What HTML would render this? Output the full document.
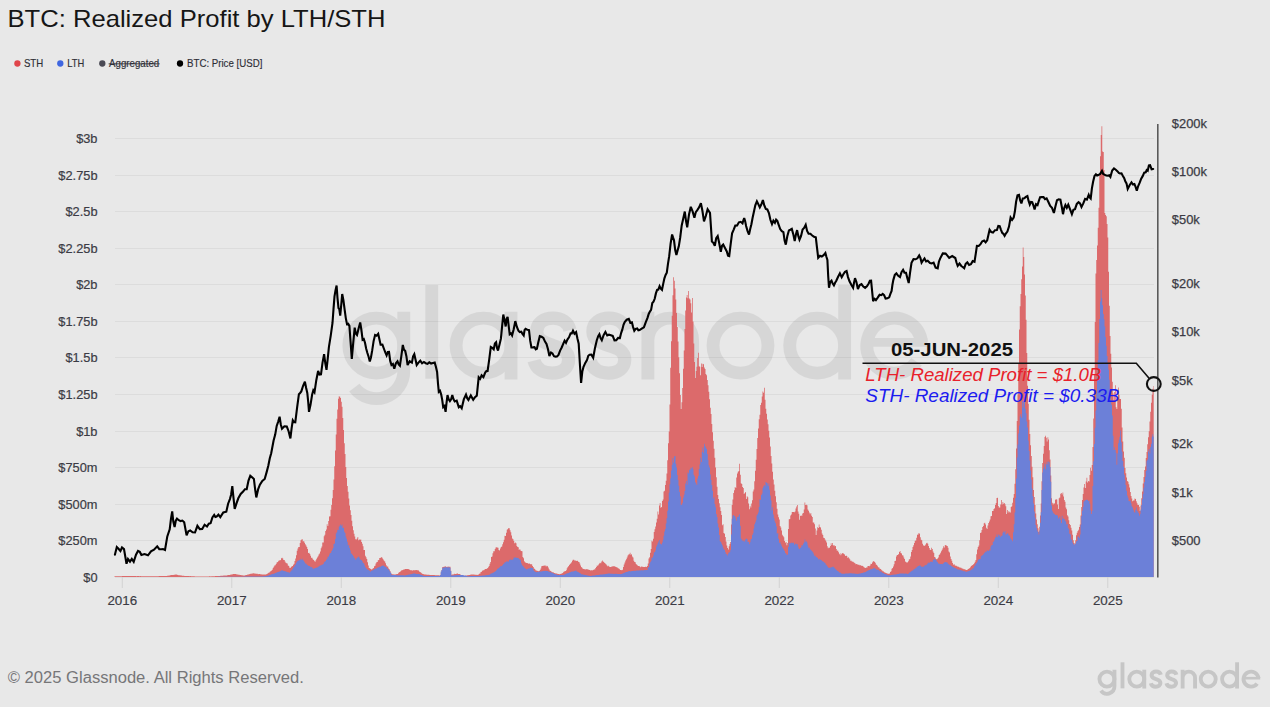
<!DOCTYPE html>
<html><head><meta charset="utf-8"><title>BTC: Realized Profit by LTH/STH</title>
<style>
html,body{margin:0;padding:0;background:#e8e8e8;}
body{width:1270px;height:707px;overflow:hidden;font-family:"Liberation Sans",sans-serif;}
svg{display:block;}
text{font-family:"Liberation Sans",sans-serif;}
</style></head><body>
<svg width="1270" height="707" viewBox="0 0 1270 707">
<rect width="1270" height="707" fill="#e8e8e8"/>

<text x="7.5" y="26.6" font-size="24" fill="#161616" textLength="378" lengthAdjust="spacingAndGlyphs">BTC: Realized Profit by LTH/STH</text>
<g font-size="10.3" fill="#2e2e36" stroke="#2e2e36" stroke-width="0.15">
<circle cx="17.4" cy="63.5" r="3.15" fill="#e0454a" stroke="none"/><text x="23.9" y="67.4" textLength="19.3" lengthAdjust="spacingAndGlyphs">STH</text>
<circle cx="60.3" cy="63.5" r="3.15" fill="#3f66e0" stroke="none"/><text x="67.2" y="67.4" textLength="17.0" lengthAdjust="spacingAndGlyphs">LTH</text>
<circle cx="102.3" cy="63.5" r="3.15" fill="#4a4a55" stroke="none"/><text x="109.1" y="67.4" textLength="50.1" lengthAdjust="spacingAndGlyphs">Aggregated</text>
<rect x="108.6" y="63.4" width="51.1" height="0.9" fill="#2e2e36" stroke="none"/>
<circle cx="180" cy="63.5" r="3.15" fill="#000" stroke="none"/><text x="187" y="67.4" textLength="75.4" lengthAdjust="spacingAndGlyphs">BTC: Price [USD]</text>
</g>
<g stroke="#dcdcdc" stroke-width="1">
<line x1="115" x2="1154" y1="138.5" y2="138.5"/>
<line x1="115" x2="1154" y1="175.5" y2="175.5"/>
<line x1="115" x2="1154" y1="211.5" y2="211.5"/>
<line x1="115" x2="1154" y1="248.5" y2="248.5"/>
<line x1="115" x2="1154" y1="284.5" y2="284.5"/>
<line x1="115" x2="1154" y1="321.5" y2="321.5"/>
<line x1="115" x2="1154" y1="357.5" y2="357.5"/>
<line x1="115" x2="1154" y1="394.5" y2="394.5"/>
<line x1="115" x2="1154" y1="431.5" y2="431.5"/>
<line x1="115" x2="1154" y1="467.5" y2="467.5"/>
<line x1="115" x2="1154" y1="504.5" y2="504.5"/>
<line x1="115" x2="1154" y1="540.5" y2="540.5"/>
<line x1="115" x2="1154" y1="577.5" y2="577.5"/>
</g>
<g transform="translate(343.4,311.4) scale(0.658)" opacity="0.07"><g fill="none" stroke="#000" stroke-width="19.5" stroke-linecap="butt"><circle cx="50" cy="52.0" r="41.75"/>
<path d="M91.75 0.5 V 90.0 A 41.75 41.75 0 0 1 16.6 115.9"/>
<path d="M134.25 -40.0 V 102.5"/>
<circle cx="213" cy="52.0" r="41.75"/>
<path d="M254.75 0.5 V 103.5"/>
<path transform="translate(281.5,0.5) scale(1.03)" d="M 61 27 C 58 15, 48 9.5, 36 9.5 C 22 9.5, 12 17, 12 29 C 12 42, 24 46, 36 50 C 50 54, 59 59, 59 71 C 59 83, 49 90.5, 35 90.5 C 21 90.5, 11 84, 8 72"/>
<path transform="translate(366.8,0.5) scale(1.03)" d="M 61 27 C 58 15, 48 9.5, 36 9.5 C 22 9.5, 12 17, 12 29 C 12 42, 24 46, 36 50 C 50 54, 59 59, 59 71 C 59 83, 49 90.5, 35 90.5 C 21 90.5, 11 84, 8 72"/>
<path d="M462.75 0.5 V 103.5 M462.75 44.25 A 34 34 0 0 1 530.75 44.25 V 103.5"/>
<circle cx="603.5" cy="52.0" r="41.75"/>
<circle cx="720" cy="52.0" r="41.75"/>
<path d="M761.75 -40.0 V 103.5"/>
<path d="M878.7 47.0 A 41.75 41.75 0 1 0 871.1 76.5"/>
<path d="M797.5 47.0 H 887.5" stroke-width="13.3"/></g></g>
<g font-size="12.8" fill="#3b3b44" stroke="#3b3b44" stroke-width="0.2" text-anchor="end">
<text x="97.5" y="142.5">$3b</text>
<text x="97.5" y="179.5">$2.75b</text>
<text x="97.5" y="215.5">$2.5b</text>
<text x="97.5" y="252.5">$2.25b</text>
<text x="97.5" y="288.5">$2b</text>
<text x="97.5" y="325.5">$1.75b</text>
<text x="97.5" y="361.5">$1.5b</text>
<text x="97.5" y="398.5">$1.25b</text>
<text x="97.5" y="435.5">$1b</text>
<text x="97.5" y="471.5">$750m</text>
<text x="97.5" y="508.5">$500m</text>
<text x="97.5" y="544.5">$250m</text>
<text x="97.5" y="581.5">$0</text>
</g>
<g font-size="12.9" fill="#3b3b44" stroke="#3b3b44" stroke-width="0.25">
<text x="1171.8" y="128.0">$200k</text>
<text x="1171.8" y="176.0">$100k</text>
<text x="1171.8" y="224.0">$50k</text>
<text x="1171.8" y="288.0">$20k</text>
<text x="1171.8" y="336.0">$10k</text>
<text x="1171.8" y="385.0">$5k</text>
<text x="1171.8" y="448.0">$2k</text>
<text x="1171.8" y="497.0">$1k</text>
<text x="1171.8" y="545.0">$500</text>
</g>
<g stroke="#d2d2d2" stroke-width="1">
<line x1="122.3" x2="122.3" y1="577" y2="588"/>
<line x1="231.8" x2="231.8" y1="577" y2="588"/>
<line x1="341.3" x2="341.3" y1="577" y2="588"/>
<line x1="450.8" x2="450.8" y1="577" y2="588"/>
<line x1="560.3" x2="560.3" y1="577" y2="588"/>
<line x1="669.8" x2="669.8" y1="577" y2="588"/>
<line x1="779.3" x2="779.3" y1="577" y2="588"/>
<line x1="888.8" x2="888.8" y1="577" y2="588"/>
<line x1="998.3" x2="998.3" y1="577" y2="588"/>
<line x1="1107.8" x2="1107.8" y1="577" y2="588"/>
</g>
<g font-size="13.4" fill="#3b3b44" stroke="#3b3b44" stroke-width="0.15" text-anchor="middle">
<text x="122.3" y="604.7">2016</text>
<text x="231.8" y="604.7">2017</text>
<text x="341.3" y="604.7">2018</text>
<text x="450.8" y="604.7">2019</text>
<text x="560.3" y="604.7">2020</text>
<text x="669.8" y="604.7">2021</text>
<text x="779.3" y="604.7">2022</text>
<text x="888.8" y="604.7">2023</text>
<text x="998.3" y="604.7">2024</text>
<text x="1107.8" y="604.7">2025</text>
</g>
<path d="M114.50,577V576.3H115.25V576.3H116.00V576.3H116.75V576.3H117.50V576.3H118.25V576.2H119.00V576.2H119.75V576.2H120.50V576.2H121.25V576.2H122.00V576.1H122.75V576.1H123.50V576.1H124.25V576.1H125.00V576.1H125.75V576.1H126.50V576.0H127.25V576.0H128.00V576.0H128.75V576.0H129.50V576.0H130.25V576.0H131.00V576.0H131.75V576.0H132.50V576.0H133.25V576.0H134.00V576.1H134.75V576.1H135.50V576.1H136.25V576.2H137.00V576.1H137.75V576.1H138.50V576.1H139.25V576.2H140.00V576.1H140.75V576.2H141.50V576.2H142.25V576.2H143.00V576.2H143.75V576.2H144.50V576.2H145.25V576.2H146.00V576.3H146.75V576.2H147.50V576.2H148.25V576.3H149.00V576.3H149.75V576.3H150.50V576.3H151.25V576.3H152.00V576.3H152.75V576.2H153.50V576.2H154.25V576.2H155.00V576.2H155.75V576.2H156.50V576.2H157.25V576.2H158.00V576.2H158.75V576.1H159.50V576.1H160.25V576.1H161.00V576.1H161.75V576.1H162.50V576.1H163.25V576.0H164.00V576.0H164.75V576.0H165.50V576.0H166.25V576.0H167.00V575.8H167.75V575.7H168.50V575.6H169.25V575.4H170.00V575.3H170.75V575.1H171.50V575.0H172.25V575.0H173.00V574.9H173.75V574.8H174.50V574.7H175.25V574.6H176.00V574.6H176.75V574.8H177.50V574.9H178.25V575.2H179.00V575.2H179.75V575.3H180.50V575.4H181.25V575.5H182.00V575.7H182.75V575.7H183.50V575.8H184.25V575.9H185.00V575.9H185.75V576.0H186.50V576.0H187.25V576.0H188.00V576.1H188.75V576.1H189.50V576.2H190.25V576.1H191.00V576.2H191.75V576.3H192.50V576.2H193.25V576.3H194.00V576.3H194.75V576.4H195.50V576.4H196.25V576.4H197.00V576.4H197.75V576.5H198.50V576.4H199.25V576.5H200.00V576.5H200.75V576.5H201.50V576.5H202.25V576.5H203.00V576.4H203.75V576.4H204.50V576.4H205.25V576.4H206.00V576.4H206.75V576.4H207.50V576.4H208.25V576.4H209.00V576.3H209.75V576.3H210.50V576.4H211.25V576.3H212.00V576.3H212.75V576.3H213.50V576.2H214.25V576.2H215.00V576.1H215.75V576.1H216.50V576.1H217.25V576.0H218.00V575.9H218.75V575.9H219.50V576.0H220.25V575.8H221.00V575.8H221.75V575.7H222.50V575.8H223.25V575.6H224.00V575.5H224.75V575.5H225.50V575.5H226.25V575.4H227.00V575.2H227.75V575.1H228.50V575.0H229.25V574.9H230.00V574.7H230.75V574.6H231.50V574.5H232.25V574.2H233.00V574.0H233.75V574.0H234.50V574.0H235.25V574.0H236.00V574.3H236.75V574.4H237.50V574.5H238.25V574.7H239.00V574.7H239.75V574.9H240.50V575.1H241.25V575.3H242.00V575.3H242.75V575.4H243.50V575.4H244.25V575.4H245.00V575.2H245.75V575.0H246.50V574.9H247.25V574.5H248.00V574.4H248.75V574.2H249.50V574.0H250.25V573.8H251.00V573.8H251.75V573.5H252.50V573.4H253.25V573.2H254.00V573.4H254.75V573.4H255.50V573.7H256.25V573.7H257.00V573.8H257.75V574.2H258.50V574.0H259.25V574.1H260.00V574.2H260.75V574.3H261.50V574.5H262.25V574.5H263.00V574.5H263.75V574.6H264.50V574.6H265.25V574.6H266.00V574.3H266.75V574.0H267.50V573.3H268.25V572.7H269.00V572.6H269.75V571.8H270.50V571.1H271.25V570.5H272.00V569.7H272.75V568.0H273.50V566.7H274.25V565.6H275.00V565.2H275.75V563.9H276.50V562.6H277.25V562.1H278.00V561.2H278.75V560.3H279.50V560.4H280.25V559.9H281.00V558.3H281.75V557.8H282.50V558.5H283.25V560.0H284.00V560.0H284.75V561.6H285.50V562.8H286.25V563.2H287.00V563.6H287.75V565.6H288.50V566.1H289.25V567.7H290.00V568.1H290.75V567.0H291.50V566.3H292.25V566.0H293.00V564.8H293.75V563.8H294.50V561.1H295.25V558.4H296.00V555.2H296.75V550.8H297.50V548.4H298.25V547.0H299.00V547.1H299.75V543.1H300.50V540.3H301.25V539.4H302.00V539.3H302.75V541.4H303.50V540.9H304.25V542.8H305.00V544.3H305.75V545.6H306.50V547.0H307.25V549.1H308.00V553.0H308.75V552.8H309.50V554.1H310.25V555.7H311.00V557.8H311.75V557.8H312.50V559.3H313.25V560.0H314.00V560.8H314.75V561.7H315.50V560.3H316.25V558.7H317.00V557.4H317.75V556.3H318.50V554.5H319.25V553.6H320.00V551.4H320.75V548.2H321.50V546.5H322.25V542.5H323.00V542.4H323.75V536.3H324.50V534.7H325.25V531.1H326.00V529.4H326.75V524.3H327.50V525.9H328.25V520.9H329.00V516.4H329.75V516.2H330.50V509.8H331.25V504.9H332.00V498.2H332.75V489.9H333.50V479.5H334.25V466.2H335.00V450.6H335.75V434.4H336.50V418.7H337.25V409.4H338.00V398.7H338.75V396.2H339.50V396.8H340.25V398.1H341.00V401.8H341.75V406.8H342.50V417.9H343.25V429.9H344.00V443.3H344.75V454.0H345.50V467.1H346.25V478.0H347.00V486.1H347.75V491.8H348.50V498.4H349.25V505.6H350.00V510.3H350.75V515.0H351.50V520.8H352.25V526.3H353.00V530.2H353.75V533.7H354.50V536.6H355.25V539.3H356.00V539.6H356.75V538.6H357.50V537.0H358.25V540.2H359.00V539.6H359.75V539.7H360.50V539.6H361.25V542.1H362.00V543.8H362.75V546.3H363.50V550.1H364.25V550.0H365.00V555.7H365.75V557.2H366.50V559.1H367.25V562.2H368.00V565.5H368.75V567.9H369.50V568.3H370.25V569.0H371.00V569.4H371.75V569.3H372.50V568.5H373.25V568.0H374.00V566.3H374.75V565.8H375.50V563.5H376.25V562.2H377.00V562.1H377.75V560.3H378.50V559.9H379.25V557.9H380.00V557.9H380.75V557.3H381.50V557.3H382.25V558.4H383.00V559.5H383.75V560.7H384.50V561.4H385.25V563.3H386.00V565.3H386.75V566.4H387.50V566.4H388.25V568.4H389.00V569.2H389.75V571.1H390.50V572.8H391.25V574.0H392.00V574.2H392.75V574.2H393.50V574.5H394.25V574.6H395.00V574.4H395.75V574.3H396.50V574.1H397.25V573.9H398.00V573.3H398.75V572.3H399.50V572.0H400.25V571.3H401.00V570.5H401.75V570.2H402.50V569.9H403.25V569.5H404.00V569.6H404.75V568.9H405.50V568.9H406.25V569.1H407.00V568.9H407.75V568.9H408.50V569.3H409.25V569.7H410.00V570.2H410.75V570.1H411.50V570.6H412.25V570.4H413.00V570.2H413.75V570.1H414.50V570.5H415.25V570.1H416.00V570.0H416.75V570.3H417.50V570.2H418.25V570.6H419.00V571.5H419.75V572.0H420.50V572.6H421.25V573.2H422.00V573.8H422.75V574.0H423.50V574.3H424.25V574.4H425.00V574.5H425.75V574.5H426.50V574.7H427.25V574.7H428.00V574.8H428.75V574.8H429.50V574.9H430.25V574.9H431.00V574.9H431.75V575.1H432.50V575.0H433.25V575.1H434.00V575.1H434.75V575.2H435.50V575.3H436.25V575.2H437.00V575.3H437.75V575.3H438.50V575.3H439.25V575.5H440.00V575.2H440.75V572.6H441.50V570.0H442.25V567.1H443.00V567.0H443.75V566.6H444.50V566.7H445.25V566.3H446.00V567.0H446.75V566.4H447.50V566.9H448.25V566.5H449.00V566.7H449.75V566.8H450.50V570.7H451.25V574.8H452.00V574.6H452.75V574.4H453.50V574.3H454.25V573.8H455.00V573.9H455.75V573.9H456.50V573.5H457.25V573.5H458.00V573.9H458.75V574.0H459.50V574.1H460.25V574.7H461.00V575.1H461.75V575.1H462.50V575.2H463.25V575.6H464.00V575.9H464.75V575.8H465.50V575.6H466.25V575.5H467.00V575.2H467.75V575.3H468.50V575.0H469.25V574.9H470.00V574.7H470.75V574.6H471.50V574.5H472.25V574.4H473.00V574.5H473.75V574.6H474.50V574.7H475.25V574.8H476.00V574.8H476.75V574.9H477.50V574.7H478.25V574.4H479.00V573.7H479.75V573.4H480.50V572.0H481.25V571.7H482.00V570.8H482.75V570.3H483.50V570.2H484.25V569.5H485.00V569.0H485.75V569.0H486.50V568.7H487.25V568.1H488.00V567.3H488.75V566.0H489.50V563.8H490.25V562.1H491.00V557.0H491.75V556.5H492.50V553.3H493.25V551.3H494.00V551.3H494.75V548.9H495.50V547.4H496.25V547.3H497.00V547.5H497.75V547.7H498.50V549.9H499.25V550.5H500.00V548.6H500.75V547.0H501.50V546.5H502.25V544.2H503.00V542.3H503.75V539.7H504.50V535.8H505.25V535.9H506.00V532.8H506.75V529.7H507.50V529.0H508.25V528.1H509.00V528.3H509.75V530.3H510.50V532.2H511.25V535.5H512.00V538.4H512.75V539.3H513.50V540.9H514.25V543.3H515.00V542.5H515.75V543.3H516.50V546.0H517.25V546.9H518.00V547.3H518.75V549.9H519.50V549.0H520.25V550.4H521.00V550.9H521.75V551.3H522.50V556.9H523.25V558.3H524.00V561.2H524.75V562.3H525.50V562.8H526.25V563.0H527.00V563.0H527.75V563.4H528.50V563.7H529.25V563.4H530.00V564.2H530.75V563.9H531.50V564.5H532.25V566.0H533.00V567.1H533.75V568.4H534.50V569.0H535.25V570.2H536.00V570.6H536.75V570.8H537.50V571.0H538.25V571.2H539.00V571.0H539.75V570.1H540.50V568.6H541.25V566.2H542.00V565.9H542.75V565.7H543.50V565.8H544.25V565.5H545.00V565.4H545.75V566.4H546.50V565.7H547.25V566.2H548.00V567.4H548.75V569.3H549.50V570.6H550.25V571.1H551.00V571.6H551.75V572.2H552.50V572.3H553.25V572.5H554.00V573.0H554.75V573.3H555.50V573.6H556.25V573.6H557.00V573.8H557.75V574.0H558.50V574.0H559.25V574.3H560.00V574.1H560.75V573.7H561.50V573.6H562.25V573.0H563.00V572.3H563.75V571.5H564.50V571.3H565.25V571.0H566.00V570.3H566.75V568.2H567.50V566.9H568.25V566.0H569.00V565.0H569.75V563.9H570.50V563.2H571.25V562.3H572.00V560.7H572.75V559.8H573.50V559.8H574.25V560.6H575.00V560.6H575.75V560.7H576.50V560.9H577.25V560.8H578.00V561.8H578.75V562.1H579.50V563.5H580.25V565.6H581.00V567.0H581.75V567.7H582.50V568.7H583.25V569.0H584.00V569.2H584.75V569.1H585.50V569.7H586.25V569.1H587.00V569.3H587.75V569.4H588.50V569.7H589.25V570.0H590.00V570.4H590.75V570.1H591.50V570.4H592.25V570.3H593.00V570.0H593.75V569.3H594.50V569.4H595.25V568.0H596.00V567.1H596.75V565.6H597.50V565.8H598.25V564.6H599.00V563.6H599.75V562.7H600.50V563.3H601.25V561.4H602.00V560.5H602.75V561.6H603.50V561.9H604.25V563.1H605.00V563.6H605.75V564.3H606.50V565.2H607.25V566.3H608.00V565.8H608.75V566.6H609.50V567.0H610.25V567.0H611.00V566.7H611.75V566.6H612.50V566.3H613.25V566.2H614.00V566.3H614.75V566.6H615.50V567.0H616.25V567.3H617.00V567.6H617.75V568.3H618.50V568.6H619.25V569.2H620.00V569.9H620.75V570.1H621.50V570.2H622.25V569.7H623.00V567.0H623.75V564.5H624.50V562.6H625.25V560.5H626.00V559.2H626.75V557.4H627.50V555.6H628.25V554.4H629.00V554.2H629.75V552.8H630.50V554.8H631.25V554.3H632.00V556.6H632.75V557.4H633.50V560.8H634.25V562.1H635.00V562.2H635.75V564.0H636.50V564.8H637.25V565.4H638.00V566.1H638.75V566.1H639.50V566.5H640.25V567.2H641.00V566.4H641.75V566.7H642.50V566.7H643.25V566.9H644.00V567.0H644.75V566.9H645.50V566.5H646.25V567.0H647.00V566.1H647.75V563.6H648.50V558.4H649.25V557.2H650.00V552.8H650.75V549.0H651.50V540.7H652.25V541.6H653.00V538.8H653.75V532.0H654.50V529.3H655.25V526.5H656.00V522.6H656.75V518.8H657.50V511.6H658.25V514.5H659.00V505.5H659.75V503.0H660.50V507.7H661.25V506.9H662.00V501.0H662.75V499.4H663.50V491.6H664.25V490.8H665.00V484.9H665.75V480.7H666.50V473.5H667.25V460.2H668.00V443.2H668.75V431.6H669.50V404.6H670.25V367.8H671.00V341.3H671.75V315.7H672.50V295.2H673.25V277.2H674.00V280.8H674.75V288.5H675.50V299.4H676.25V313.1H677.00V327.0H677.75V341.6H678.50V357.2H679.25V373.2H680.00V394.9H680.75V409.0H681.50V402.2H682.25V388.1H683.00V368.8H683.75V350.5H684.50V329.1H685.25V310.4H686.00V297.4H686.75V295.1H687.50V298.2H688.25V290.9H689.00V298.5H689.75V299.5H690.50V303.3H691.25V312.6H692.00V298.0H692.75V321.6H693.50V343.4H694.25V362.0H695.00V378.0H695.75V370.9H696.50V366.8H697.25V357.9H698.00V352.8H698.75V366.3H699.50V366.8H700.25V375.2H701.00V363.4H701.75V367.0H702.50V363.8H703.25V364.2H704.00V367.5H704.75V368.9H705.50V374.1H706.25V375.2H707.00V380.0H707.75V385.3H708.50V391.7H709.25V399.2H710.00V407.8H710.75V414.0H711.50V423.9H712.25V432.2H713.00V440.7H713.75V448.7H714.50V457.7H715.25V467.5H716.00V477.3H716.75V486.7H717.50V494.9H718.25V499.1H719.00V503.3H719.75V507.3H720.50V510.9H721.25V514.9H722.00V525.2H722.75V524.3H723.50V533.0H724.25V533.7H725.00V536.9H725.75V541.5H726.50V545.5H727.25V548.1H728.00V549.4H728.75V546.2H729.50V544.0H730.25V542.0H731.00V524.5H731.75V505.1H732.50V499.4H733.25V492.9H734.00V490.3H734.75V486.9H735.50V487.9H736.25V477.4H737.00V473.4H737.75V471.8H738.50V470.9H739.25V463.7H740.00V474.7H740.75V483.3H741.50V484.1H742.25V487.0H743.00V488.0H743.75V493.9H744.50V492.9H745.25V492.0H746.00V499.0H746.75V496.3H747.50V497.2H748.25V503.4H749.00V509.3H749.75V505.8H750.50V507.5H751.25V503.4H752.00V500.3H752.75V491.5H753.50V489.6H754.25V481.2H755.00V470.8H755.75V459.8H756.50V449.1H757.25V438.1H758.00V428.5H758.75V419.2H759.50V414.8H760.25V404.9H761.00V402.8H761.75V396.6H762.50V391.4H763.25V392.8H764.00V387.8H764.75V399.8H765.50V408.7H766.25V413.8H767.00V419.6H767.75V424.3H768.50V430.8H769.25V437.6H770.00V446.6H770.75V456.1H771.50V463.4H772.25V471.8H773.00V479.5H773.75V484.6H774.50V490.8H775.25V496.2H776.00V502.2H776.75V508.8H777.50V514.6H778.25V517.2H779.00V519.5H779.75V525.9H780.50V527.4H781.25V530.6H782.00V534.7H782.75V536.0H783.50V537.3H784.25V540.9H785.00V542.7H785.75V542.1H786.50V545.2H787.25V543.0H788.00V528.9H788.75V519.3H789.50V519.1H790.25V515.6H791.00V514.5H791.75V511.9H792.50V512.0H793.25V512.1H794.00V512.2H794.75V511.4H795.50V508.4H796.25V506.4H797.00V504.9H797.75V511.6H798.50V513.8H799.25V519.7H800.00V516.1H800.75V515.3H801.50V516.1H802.25V513.4H803.00V513.1H803.75V509.6H804.50V502.5H805.25V505.0H806.00V504.7H806.75V505.2H807.50V509.4H808.25V510.8H809.00V512.4H809.75V514.2H810.50V512.9H811.25V515.7H812.00V517.0H812.75V522.5H813.50V522.4H814.25V524.2H815.00V528.4H815.75V535.1H816.50V530.5H817.25V527.2H818.00V528.1H818.75V524.5H819.50V527.0H820.25V527.5H821.00V529.8H821.75V533.5H822.50V534.9H823.25V537.7H824.00V538.1H824.75V539.6H825.50V540.8H826.25V542.5H827.00V546.3H827.75V548.2H828.50V547.6H829.25V547.8H830.00V546.0H830.75V543.2H831.50V545.0H832.25V543.1H833.00V545.4H833.75V545.1H834.50V546.2H835.25V546.1H836.00V548.9H836.75V550.8H837.50V550.5H838.25V552.2H839.00V554.2H839.75V553.3H840.50V555.2H841.25V553.7H842.00V553.2H842.75V553.0H843.50V553.9H844.25V554.4H845.00V555.9H845.75V555.6H846.50V555.9H847.25V557.7H848.00V557.2H848.75V558.2H849.50V559.3H850.25V560.8H851.00V560.8H851.75V561.7H852.50V561.5H853.25V562.3H854.00V562.7H854.75V563.2H855.50V564.3H856.25V564.0H857.00V564.2H857.75V565.0H858.50V564.6H859.25V565.3H860.00V565.0H860.75V565.9H861.50V565.4H862.25V566.1H863.00V566.5H863.75V567.2H864.50V567.7H865.25V567.9H866.00V567.4H866.75V567.5H867.50V566.0H868.25V566.0H869.00V566.2H869.75V565.4H870.50V563.8H871.25V564.1H872.00V562.5H872.75V561.6H873.50V560.9H874.25V562.1H875.00V562.8H875.75V564.4H876.50V565.1H877.25V566.2H878.00V567.2H878.75V567.6H879.50V568.7H880.25V568.9H881.00V569.7H881.75V570.4H882.50V571.2H883.25V571.6H884.00V572.2H884.75V572.6H885.50V573.1H886.25V573.3H887.00V573.5H887.75V573.8H888.50V573.7H889.25V573.4H890.00V572.1H890.75V571.3H891.50V568.8H892.25V567.9H893.00V566.4H893.75V564.2H894.50V561.1H895.25V560.7H896.00V556.4H896.75V555.0H897.50V554.9H898.25V554.1H899.00V552.0H899.75V551.0H900.50V552.9H901.25V553.6H902.00V555.3H902.75V555.5H903.50V557.4H904.25V559.1H905.00V561.5H905.75V562.1H906.50V562.8H907.25V562.2H908.00V561.2H908.75V559.4H909.50V558.9H910.25V556.4H911.00V552.1H911.75V550.0H912.50V547.1H913.25V545.3H914.00V543.1H914.75V540.7H915.50V540.4H916.25V537.8H917.00V534.7H917.75V534.4H918.50V533.0H919.25V533.8H920.00V537.3H920.75V539.8H921.50V540.3H922.25V543.7H923.00V545.3H923.75V546.1H924.50V545.5H925.25V544.5H926.00V543.3H926.75V542.8H927.50V543.8H928.25V546.1H929.00V548.1H929.75V549.7H930.50V549.9H931.25V547.8H932.00V549.0H932.75V551.5H933.50V553.0H934.25V557.0H935.00V557.5H935.75V559.1H936.50V559.2H937.25V558.6H938.00V557.4H938.75V555.1H939.50V554.3H940.25V552.7H941.00V551.3H941.75V549.7H942.50V548.2H943.25V546.3H944.00V547.6H944.75V545.3H945.50V545.1H946.25V545.8H947.00V546.1H947.75V547.7H948.50V551.4H949.25V552.5H950.00V556.5H950.75V558.9H951.50V560.8H952.25V562.9H953.00V564.8H953.75V564.0H954.50V565.2H955.25V565.7H956.00V565.8H956.75V566.2H957.50V566.7H958.25V566.7H959.00V567.2H959.75V567.7H960.50V567.6H961.25V568.3H962.00V568.6H962.75V568.8H963.50V569.3H964.25V569.3H965.00V569.4H965.75V569.9H966.50V570.0H967.25V569.6H968.00V568.9H968.75V568.4H969.50V567.9H970.25V566.8H971.00V566.1H971.75V565.3H972.50V565.1H973.25V563.9H974.00V563.3H974.75V561.8H975.50V560.1H976.25V554.2H977.00V549.4H977.75V547.1H978.50V545.5H979.25V540.3H980.00V533.0H980.75V532.6H981.50V529.9H982.25V527.1H983.00V525.9H983.75V523.3H984.50V522.7H985.25V524.5H986.00V527.8H986.75V529.1H987.50V525.6H988.25V522.9H989.00V521.4H989.75V519.6H990.50V516.3H991.25V516.1H992.00V510.9H992.75V511.1H993.50V509.0H994.25V508.2H995.00V505.0H995.75V502.9H996.50V497.9H997.25V497.7H998.00V505.9H998.75V507.6H999.50V507.4H1000.25V504.4H1001.00V499.9H1001.75V504.5H1002.50V501.9H1003.25V503.7H1004.00V503.0H1004.75V504.3H1005.50V506.3H1006.25V514.1H1007.00V510.0H1007.75V512.5H1008.50V511.0H1009.25V512.2H1010.00V512.4H1010.75V507.0H1011.50V506.2H1012.25V502.8H1013.00V497.8H1013.75V493.9H1014.50V483.7H1015.25V469.3H1016.00V448.4H1016.75V420.9H1017.50V394.5H1018.25V363.6H1019.00V329.5H1019.75V306.2H1020.50V294.0H1021.25V279.3H1022.00V266.6H1022.75V247.4H1023.50V257.0H1024.25V274.5H1025.00V295.6H1025.75V319.8H1026.50V353.0H1027.25V385.7H1028.00V403.8H1028.75V419.7H1029.50V434.1H1030.25V445.3H1031.00V456.0H1031.75V466.7H1032.50V477.2H1033.25V489.9H1034.00V497.1H1034.75V504.9H1035.50V513.4H1036.25V519.5H1037.00V524.2H1037.75V528.3H1038.50V531.7H1039.25V526.7H1040.00V515.6H1040.75V503.5H1041.50V481.3H1042.25V463.0H1043.00V453.8H1043.75V446.0H1044.50V436.9H1045.25V435.8H1046.00V437.8H1046.75V441.5H1047.50V437.2H1048.25V439.5H1049.00V450.3H1049.75V459.6H1050.50V475.6H1051.25V498.2H1052.00V502.7H1052.75V504.6H1053.50V503.3H1054.25V503.5H1055.00V499.7H1055.75V499.3H1056.50V499.5H1057.25V504.6H1058.00V509.0H1058.75V498.3H1059.50V497.5H1060.25V493.8H1061.00V493.1H1061.75V494.6H1062.50V492.6H1063.25V496.4H1064.00V499.9H1064.75V501.8H1065.50V507.4H1066.25V509.2H1067.00V515.3H1067.75V516.5H1068.50V520.2H1069.25V523.9H1070.00V525.1H1070.75V527.8H1071.50V530.6H1072.25V534.7H1073.00V540.2H1073.75V542.9H1074.50V544.4H1075.25V540.3H1076.00V535.2H1076.75V532.8H1077.50V530.9H1078.25V529.8H1079.00V527.0H1079.75V524.5H1080.50V515.4H1081.25V507.0H1082.00V499.9H1082.75V494.1H1083.50V487.4H1084.25V484.1H1085.00V488.1H1085.75V481.4H1086.50V477.8H1087.25V482.6H1088.00V480.9H1088.75V481.4H1089.50V474.9H1090.25V467.8H1091.00V470.7H1091.75V465.0H1092.50V447.1H1093.25V418.5H1094.00V374.5H1094.75V321.9H1095.50V273.5H1096.25V259.9H1097.00V245.4H1097.75V227.8H1098.50V207.8H1099.25V175.8H1100.00V156.2H1100.75V134.9H1101.50V126.2H1102.25V151.4H1103.00V151.9H1103.75V169.9H1104.50V212.9H1105.25V214.9H1106.00V216.2H1106.75V223.9H1107.50V237.5H1108.25V271.7H1109.00V305.8H1109.75V336.1H1110.50V353.7H1111.25V367.5H1112.00V381.7H1112.75V393.4H1113.50V400.4H1114.25V392.0H1115.00V385.3H1115.75V407.2H1116.50V409.0H1117.25V397.2H1118.00V387.5H1118.75V394.8H1119.50V398.9H1120.25V399.1H1121.00V408.8H1121.75V427.4H1122.50V441.5H1123.25V451.5H1124.00V457.8H1124.75V468.1H1125.50V473.3H1126.25V477.4H1127.00V480.9H1127.75V481.7H1128.50V484.3H1129.25V487.5H1130.00V491.9H1130.75V496.0H1131.50V498.6H1132.25V501.3H1133.00V500.4H1133.75V500.5H1134.50V498.5H1135.25V498.9H1136.00V501.3H1136.75V503.2H1137.50V505.0H1138.25V504.9H1139.00V506.7H1139.75V511.1H1140.50V505.5H1141.25V498.3H1142.00V491.5H1142.75V483.4H1143.50V476.9H1144.25V470.0H1145.00V466.5H1145.75V458.0H1146.50V451.9H1147.25V444.3H1148.00V437.2H1148.75V431.3H1149.50V421.5H1150.25V411.8H1151.00V402.8H1151.75V394.7H1152.50V388.8H1153.25V386.1H1153.70V577Z" fill="#dc6a6b"/>
<path d="M114.50,577V577.0H115.25V577.0H116.00V577.0H116.75V577.0H117.50V577.0H118.25V577.0H119.00V577.0H119.75V577.0H120.50V577.0H121.25V577.0H122.00V577.0H122.75V577.0H123.50V577.0H124.25V577.0H125.00V577.0H125.75V577.0H126.50V577.0H127.25V577.0H128.00V577.0H128.75V577.0H129.50V577.0H130.25V577.0H131.00V577.0H131.75V577.0H132.50V577.0H133.25V577.0H134.00V577.0H134.75V577.0H135.50V577.0H136.25V577.0H137.00V577.0H137.75V577.0H138.50V577.0H139.25V577.0H140.00V577.0H140.75V577.0H141.50V577.0H142.25V577.0H143.00V577.0H143.75V577.0H144.50V577.0H145.25V577.0H146.00V577.0H146.75V577.0H147.50V577.0H148.25V577.0H149.00V577.0H149.75V577.0H150.50V577.0H151.25V577.0H152.00V577.0H152.75V577.0H153.50V577.0H154.25V577.0H155.00V577.0H155.75V577.0H156.50V577.0H157.25V577.0H158.00V577.0H158.75V577.0H159.50V577.0H160.25V577.0H161.00V577.0H161.75V577.0H162.50V577.0H163.25V577.0H164.00V577.0H164.75V577.0H165.50V577.0H166.25V577.0H167.00V577.0H167.75V577.0H168.50V577.0H169.25V577.0H170.00V577.0H170.75V577.0H171.50V577.0H172.25V577.0H173.00V577.0H173.75V577.0H174.50V577.0H175.25V577.0H176.00V577.0H176.75V577.0H177.50V577.0H178.25V577.0H179.00V577.0H179.75V577.0H180.50V577.0H181.25V577.0H182.00V577.0H182.75V577.0H183.50V577.0H184.25V577.0H185.00V577.0H185.75V577.0H186.50V577.0H187.25V577.0H188.00V577.0H188.75V577.0H189.50V577.0H190.25V577.0H191.00V577.0H191.75V577.0H192.50V577.0H193.25V577.0H194.00V577.0H194.75V577.0H195.50V577.0H196.25V577.0H197.00V577.0H197.75V577.0H198.50V577.0H199.25V577.0H200.00V577.0H200.75V577.0H201.50V577.0H202.25V577.0H203.00V577.0H203.75V577.0H204.50V577.0H205.25V577.0H206.00V576.9H206.75V576.9H207.50V576.9H208.25V576.9H209.00V576.9H209.75V576.9H210.50V576.9H211.25V576.9H212.00V576.9H212.75V576.9H213.50V576.9H214.25V576.9H215.00V576.9H215.75V576.9H216.50V576.9H217.25V576.9H218.00V576.8H218.75V576.8H219.50V576.8H220.25V576.8H221.00V576.8H221.75V576.8H222.50V576.8H223.25V576.8H224.00V576.8H224.75V576.8H225.50V576.8H226.25V576.8H227.00V576.8H227.75V576.8H228.50V576.8H229.25V576.8H230.00V576.8H230.75V576.7H231.50V576.7H232.25V576.7H233.00V576.7H233.75V576.7H234.50V576.7H235.25V576.7H236.00V576.7H236.75V576.7H237.50V576.7H238.25V576.7H239.00V576.7H239.75V576.7H240.50V576.7H241.25V576.7H242.00V576.7H242.75V576.7H243.50V576.7H244.25V576.6H245.00V576.6H245.75V576.6H246.50V576.6H247.25V576.6H248.00V576.6H248.75V576.6H249.50V576.6H250.25V576.6H251.00V576.6H251.75V576.6H252.50V576.5H253.25V576.5H254.00V576.5H254.75V576.5H255.50V576.5H256.25V576.5H257.00V576.4H257.75V576.4H258.50V576.4H259.25V576.4H260.00V576.4H260.75V576.4H261.50V576.4H262.25V576.4H263.00V576.3H263.75V576.3H264.50V576.3H265.25V576.3H266.00V576.1H266.75V575.8H267.50V575.6H268.25V575.4H269.00V575.1H269.75V575.1H270.50V574.5H271.25V574.3H272.00V574.1H272.75V574.0H273.50V573.4H274.25V573.4H275.00V573.0H275.75V572.7H276.50V572.5H277.25V572.1H278.00V572.1H278.75V571.6H279.50V571.6H280.25V571.0H281.00V570.6H281.75V570.3H282.50V570.6H283.25V570.9H284.00V570.9H284.75V571.2H285.50V571.6H286.25V571.7H287.00V572.3H287.75V572.1H288.50V572.5H289.25V572.8H290.00V571.7H290.75V570.6H291.50V570.3H292.25V568.8H293.00V567.6H293.75V566.7H294.50V565.3H295.25V564.6H296.00V562.8H296.75V561.6H297.50V560.8H298.25V560.6H299.00V560.2H299.75V559.4H300.50V558.7H301.25V560.1H302.00V558.7H302.75V560.1H303.50V561.1H304.25V562.2H305.00V563.5H305.75V563.5H306.50V564.8H307.25V565.1H308.00V565.8H308.75V565.9H309.50V566.1H310.25V567.2H311.00V567.0H311.75V567.6H312.50V568.6H313.25V568.8H314.00V568.6H314.75V568.0H315.50V568.1H316.25V567.6H317.00V567.5H317.75V566.7H318.50V566.6H319.25V565.8H320.00V565.6H320.75V565.2H321.50V564.7H322.25V564.6H323.00V563.9H323.75V562.3H324.50V561.8H325.25V560.9H326.00V559.8H326.75V558.7H327.50V556.7H328.25V556.6H329.00V554.8H329.75V553.0H330.50V553.0H331.25V551.1H332.00V549.7H332.75V547.9H333.50V544.0H334.25V543.4H335.00V538.9H335.75V533.6H336.50V532.2H337.25V529.8H338.00V530.0H338.75V526.8H339.50V525.5H340.25V524.4H341.00V525.8H341.75V524.6H342.50V527.9H343.25V527.8H344.00V531.5H344.75V533.0H345.50V536.4H346.25V538.8H347.00V541.7H347.75V545.4H348.50V544.7H349.25V548.0H350.00V550.5H350.75V553.4H351.50V553.7H352.25V555.0H353.00V556.1H353.75V557.8H354.50V558.3H355.25V560.0H356.00V558.7H356.75V557.7H357.50V557.2H358.25V556.5H359.00V557.6H359.75V559.5H360.50V559.8H361.25V560.3H362.00V561.3H362.75V563.0H363.50V563.3H364.25V565.2H365.00V566.9H365.75V568.1H366.50V568.9H367.25V569.6H368.00V569.9H368.75V570.5H369.50V570.7H370.25V571.7H371.00V570.8H371.75V570.5H372.50V570.2H373.25V569.7H374.00V569.3H374.75V569.1H375.50V568.3H376.25V568.5H377.00V567.7H377.75V567.6H378.50V567.3H379.25V566.8H380.00V566.9H380.75V566.0H381.50V566.0H382.25V565.6H383.00V565.5H383.75V566.0H384.50V566.8H385.25V567.0H386.00V567.3H386.75V568.4H387.50V568.7H388.25V569.7H389.00V570.4H389.75V571.8H390.50V573.1H391.25V574.7H392.00V574.9H392.75V575.1H393.50V575.0H394.25V575.0H395.00V575.1H395.75V575.1H396.50V575.2H397.25V575.2H398.00V575.2H398.75V575.2H399.50V575.3H400.25V575.3H401.00V575.2H401.75V575.3H402.50V575.3H403.25V575.3H404.00V575.4H404.75V575.5H405.50V575.3H406.25V575.0H407.00V575.1H407.75V574.8H408.50V574.6H409.25V574.4H410.00V574.3H410.75V574.2H411.50V573.9H412.25V573.7H413.00V573.5H413.75V573.6H414.50V573.6H415.25V573.7H416.00V573.9H416.75V573.9H417.50V573.9H418.25V574.0H419.00V574.1H419.75V574.5H420.50V574.9H421.25V575.1H422.00V575.3H422.75V575.7H423.50V575.9H424.25V575.9H425.00V576.0H425.75V576.0H426.50V576.0H427.25V576.0H428.00V576.0H428.75V576.0H429.50V576.0H430.25V576.0H431.00V576.0H431.75V576.0H432.50V576.0H433.25V576.0H434.00V576.0H434.75V576.0H435.50V576.0H436.25V576.0H437.00V576.0H437.75V576.0H438.50V576.0H439.25V576.0H440.00V575.0H440.75V571.5H441.50V570.0H442.25V567.7H443.00V567.7H443.75V567.2H444.50V567.6H445.25V567.3H446.00V567.1H446.75V567.6H447.50V567.4H448.25V567.2H449.00V567.2H449.75V567.8H450.50V571.0H451.25V575.4H452.00V575.4H452.75V575.3H453.50V575.4H454.25V575.2H455.00V575.2H455.75V575.2H456.50V575.1H457.25V575.0H458.00V575.0H458.75V575.1H459.50V575.1H460.25V574.9H461.00V574.9H461.75V574.9H462.50V575.1H463.25V575.4H464.00V575.5H464.75V575.6H465.50V575.8H466.25V576.0H467.00V576.2H467.75V576.2H468.50V576.2H469.25V576.2H470.00V576.1H470.75V576.1H471.50V576.1H472.25V576.1H473.00V576.1H473.75V576.1H474.50V576.1H475.25V576.1H476.00V576.0H476.75V576.0H477.50V576.0H478.25V576.0H479.00V575.9H479.75V575.8H480.50V575.7H481.25V575.7H482.00V575.6H482.75V575.5H483.50V575.5H484.25V575.4H485.00V575.3H485.75V575.2H486.50V575.1H487.25V575.0H488.00V574.9H488.75V574.7H489.50V574.5H490.25V573.8H491.00V573.6H491.75V573.2H492.50V572.8H493.25V572.5H494.00V572.1H494.75V571.6H495.50V571.1H496.25V569.9H497.00V569.1H497.75V568.3H498.50V568.3H499.25V567.3H500.00V566.2H500.75V566.3H501.50V565.9H502.25V565.0H503.00V563.9H503.75V563.4H504.50V562.2H505.25V562.2H506.00V561.3H506.75V562.1H507.50V561.1H508.25V561.7H509.00V559.9H509.75V559.6H510.50V559.7H511.25V559.7H512.00V559.9H512.75V559.1H513.50V557.8H514.25V557.5H515.00V557.3H515.75V557.9H516.50V557.5H517.25V558.1H518.00V558.1H518.75V559.4H519.50V559.0H520.25V560.3H521.00V563.3H521.75V565.0H522.50V566.1H523.25V566.8H524.00V567.7H524.75V568.3H525.50V569.0H526.25V569.4H527.00V569.0H527.75V568.8H528.50V568.3H529.25V568.4H530.00V567.8H530.75V567.7H531.50V568.0H532.25V568.1H533.00V569.8H533.75V570.9H534.50V571.5H535.25V572.0H536.00V572.2H536.75V571.9H537.50V571.8H538.25V571.7H539.00V571.6H539.75V571.8H540.50V571.2H541.25V571.5H542.00V571.3H542.75V571.0H543.50V571.1H544.25V571.0H545.00V570.8H545.75V571.0H546.50V571.0H547.25V570.9H548.00V571.4H548.75V571.6H549.50V571.9H550.25V572.3H551.00V572.4H551.75V572.8H552.50V573.1H553.25V573.5H554.00V573.9H554.75V574.1H555.50V574.4H556.25V574.6H557.00V574.9H557.75V575.0H558.50V574.9H559.25V574.9H560.00V574.9H560.75V575.0H561.50V574.9H562.25V574.9H563.00V574.9H563.75V574.7H564.50V574.4H565.25V573.9H566.00V573.8H566.75V573.3H567.50V573.3H568.25V572.9H569.00V572.6H569.75V572.3H570.50V572.1H571.25V571.6H572.00V571.5H572.75V571.4H573.50V571.2H574.25V570.9H575.00V570.7H575.75V570.5H576.50V571.6H577.25V571.8H578.00V572.1H578.75V572.7H579.50V573.0H580.25V573.4H581.00V574.3H581.75V574.3H582.50V574.4H583.25V574.7H584.00V574.8H584.75V574.9H585.50V575.0H586.25V575.2H587.00V575.4H587.75V575.6H588.50V575.7H589.25V575.9H590.00V576.0H590.75V575.9H591.50V575.7H592.25V575.6H593.00V575.5H593.75V575.4H594.50V575.4H595.25V575.3H596.00V575.1H596.75V575.0H597.50V575.0H598.25V574.9H599.00V574.7H599.75V574.6H600.50V574.6H601.25V574.6H602.00V574.4H602.75V574.3H603.50V574.2H604.25V574.2H605.00V574.0H605.75V573.9H606.50V573.8H607.25V573.8H608.00V573.6H608.75V573.5H609.50V573.6H610.25V573.8H611.00V573.7H611.75V573.7H612.50V573.7H613.25V573.9H614.00V573.7H614.75V573.9H615.50V573.8H616.25V573.8H617.00V574.0H617.75V573.9H618.50V574.1H619.25V573.9H620.00V574.2H620.75V574.1H621.50V574.0H622.25V573.4H623.00V573.3H623.75V572.9H624.50V572.4H625.25V572.2H626.00V572.1H626.75V572.0H627.50V571.4H628.25V571.3H629.00V571.1H629.75V571.3H630.50V571.4H631.25V570.9H632.00V571.0H632.75V570.9H633.50V570.8H634.25V570.8H635.00V571.1H635.75V570.5H636.50V570.6H637.25V570.5H638.00V570.5H638.75V570.4H639.50V570.3H640.25V570.5H641.00V570.3H641.75V570.3H642.50V570.4H643.25V570.2H644.00V570.1H644.75V570.2H645.50V570.0H646.25V570.1H647.00V569.9H647.75V567.7H648.50V566.9H649.25V563.6H650.00V562.2H650.75V560.7H651.50V557.8H652.25V557.5H653.00V555.5H653.75V552.5H654.50V552.0H655.25V550.3H656.00V546.7H656.75V544.9H657.50V543.3H658.25V541.4H659.00V540.0H659.75V543.7H660.50V543.8H661.25V544.4H662.00V542.5H662.75V539.8H663.50V535.7H664.25V531.4H665.00V529.0H665.75V523.6H666.50V518.3H667.25V510.8H668.00V501.4H668.75V492.8H669.50V484.2H670.25V478.2H671.00V470.5H671.75V464.7H672.50V458.0H673.25V462.4H674.00V456.6H674.75V455.9H675.50V463.7H676.25V467.6H677.00V474.9H677.75V480.1H678.50V485.7H679.25V492.0H680.00V496.2H680.75V505.0H681.50V504.6H682.25V502.8H683.00V497.8H683.75V494.8H684.50V490.9H685.25V483.5H686.00V481.0H686.75V484.7H687.50V472.4H688.25V473.5H689.00V469.8H689.75V469.9H690.50V467.8H691.25V468.4H692.00V467.1H692.75V469.2H693.50V474.7H694.25V476.4H695.00V482.3H695.75V483.6H696.50V485.0H697.25V478.6H698.00V475.9H698.75V469.1H699.50V464.5H700.25V457.8H701.00V462.0H701.75V451.9H702.50V447.4H703.25V452.7H704.00V443.8H704.75V446.1H705.50V447.6H706.25V449.1H707.00V454.1H707.75V459.9H708.50V465.2H709.25V467.5H710.00V474.4H710.75V480.0H711.50V485.0H712.25V490.7H713.00V498.8H713.75V496.9H714.50V504.1H715.25V507.2H716.00V514.0H716.75V517.1H717.50V523.6H718.25V527.5H719.00V535.1H719.75V541.3H720.50V542.0H721.25V543.8H722.00V545.3H722.75V547.5H723.50V549.5H724.25V549.7H725.00V552.0H725.75V554.3H726.50V554.1H727.25V555.5H728.00V553.6H728.75V552.6H729.50V552.1H730.25V550.1H731.00V534.6H731.75V518.7H732.50V515.5H733.25V515.0H734.00V516.1H734.75V516.6H735.50V518.6H736.25V520.7H737.00V516.9H737.75V517.1H738.50V515.4H739.25V514.3H740.00V525.8H740.75V538.4H741.50V539.5H742.25V540.7H743.00V540.6H743.75V541.7H744.50V540.6H745.25V539.3H746.00V538.6H746.75V539.0H747.50V541.7H748.25V541.9H749.00V544.2H749.75V542.2H750.50V539.5H751.25V538.8H752.00V535.1H752.75V533.3H753.50V528.6H754.25V524.3H755.00V522.4H755.75V520.2H756.50V515.5H757.25V514.2H758.00V512.4H758.75V507.1H759.50V499.3H760.25V500.1H761.00V494.9H761.75V493.4H762.50V488.1H763.25V486.3H764.00V485.0H764.75V486.5H765.50V481.9H766.25V482.7H767.00V483.2H767.75V486.1H768.50V483.5H769.25V489.7H770.00V495.4H770.75V500.5H771.50V510.6H772.25V507.2H773.00V514.4H773.75V518.2H774.50V521.2H775.25V523.2H776.00V526.2H776.75V533.7H777.50V532.9H778.25V538.7H779.00V542.9H779.75V542.0H780.50V544.1H781.25V545.7H782.00V547.3H782.75V548.4H783.50V549.4H784.25V551.0H785.00V552.9H785.75V553.8H786.50V555.1H787.25V554.6H788.00V546.9H788.75V542.5H789.50V543.8H790.25V542.9H791.00V542.6H791.75V543.3H792.50V542.7H793.25V542.8H794.00V544.8H794.75V543.8H795.50V543.4H796.25V544.4H797.00V543.9H797.75V546.4H798.50V548.6H799.25V549.1H800.00V547.9H800.75V546.9H801.50V545.0H802.25V545.5H803.00V543.8H803.75V542.4H804.50V539.6H805.25V541.8H806.00V541.3H806.75V542.5H807.50V545.6H808.25V547.8H809.00V547.6H809.75V549.0H810.50V550.0H811.25V550.7H812.00V551.6H812.75V552.5H813.50V554.3H814.25V555.9H815.00V555.6H815.75V557.1H816.50V557.3H817.25V558.1H818.00V559.6H818.75V558.7H819.50V559.6H820.25V559.7H821.00V559.9H821.75V560.9H822.50V561.4H823.25V561.7H824.00V562.4H824.75V563.1H825.50V564.5H826.25V565.2H827.00V566.2H827.75V567.2H828.50V567.9H829.25V567.7H830.00V567.6H830.75V567.4H831.50V567.0H832.25V566.8H833.00V566.8H833.75V567.4H834.50V568.3H835.25V569.3H836.00V569.8H836.75V570.7H837.50V571.1H838.25V571.8H839.00V572.4H839.75V572.6H840.50V573.1H841.25V573.7H842.00V573.8H842.75V573.8H843.50V573.7H844.25V573.7H845.00V573.6H845.75V573.6H846.50V573.5H847.25V573.5H848.00V573.4H848.75V573.3H849.50V573.3H850.25V573.3H851.00V573.3H851.75V573.4H852.50V573.4H853.25V573.5H854.00V573.6H854.75V573.8H855.50V573.7H856.25V573.7H857.00V573.9H857.75V573.8H858.50V573.8H859.25V573.6H860.00V573.4H860.75V573.3H861.50V573.0H862.25V572.9H863.00V572.6H863.75V572.5H864.50V572.2H865.25V571.9H866.00V571.4H866.75V571.1H867.50V570.6H868.25V570.2H869.00V569.9H869.75V570.0H870.50V569.1H871.25V569.1H872.00V569.2H872.75V568.4H873.50V568.1H874.25V568.3H875.00V568.7H875.75V569.2H876.50V569.7H877.25V569.7H878.00V570.1H878.75V570.5H879.50V571.3H880.25V571.4H881.00V571.8H881.75V572.6H882.50V572.9H883.25V573.2H884.00V573.7H884.75V574.0H885.50V574.2H886.25V574.6H887.00V574.9H887.75V575.2H888.50V575.3H889.25V575.2H890.00V575.2H890.75V575.0H891.50V574.9H892.25V574.8H893.00V574.8H893.75V574.6H894.50V574.5H895.25V574.5H896.00V574.4H896.75V574.1H897.50V574.0H898.25V574.0H899.00V573.6H899.75V573.5H900.50V573.4H901.25V573.6H902.00V573.4H902.75V573.4H903.50V573.5H904.25V573.7H905.00V573.6H905.75V573.6H906.50V573.8H907.25V573.9H908.00V573.7H908.75V573.1H909.50V572.3H910.25V571.8H911.00V571.2H911.75V570.5H912.50V570.6H913.25V569.6H914.00V569.1H914.75V568.7H915.50V567.7H916.25V567.4H917.00V566.8H917.75V566.1H918.50V565.9H919.25V565.3H920.00V565.5H920.75V566.5H921.50V566.7H922.25V566.7H923.00V566.7H923.75V566.3H924.50V565.4H925.25V565.0H926.00V565.2H926.75V563.7H927.50V563.5H928.25V562.5H929.00V562.9H929.75V561.9H930.50V561.5H931.25V561.7H932.00V561.9H932.75V560.1H933.50V559.7H934.25V558.6H935.00V559.2H935.75V560.1H936.50V561.5H937.25V562.3H938.00V563.4H938.75V563.6H939.50V564.2H940.25V563.9H941.00V564.0H941.75V564.0H942.50V564.2H943.25V563.0H944.00V562.5H944.75V562.0H945.50V561.9H946.25V562.4H947.00V562.6H947.75V563.7H948.50V564.2H949.25V564.9H950.00V564.8H950.75V565.9H951.50V566.1H952.25V567.0H953.00V567.0H953.75V567.7H954.50V567.9H955.25V568.3H956.00V568.7H956.75V569.1H957.50V569.4H958.25V569.7H959.00V569.6H959.75V570.1H960.50V570.3H961.25V570.6H962.00V570.5H962.75V571.0H963.50V571.4H964.25V571.1H965.00V571.4H965.75V571.7H966.50V571.7H967.25V571.3H968.00V571.3H968.75V570.9H969.50V570.5H970.25V570.2H971.00V569.4H971.75V569.4H972.50V568.3H973.25V568.1H974.00V566.3H974.75V565.5H975.50V563.8H976.25V562.9H977.00V561.7H977.75V560.0H978.50V559.3H979.25V559.0H980.00V558.9H980.75V556.3H981.50V555.8H982.25V555.1H983.00V554.6H983.75V553.3H984.50V552.6H985.25V551.5H986.00V551.8H986.75V550.5H987.50V550.4H988.25V551.1H989.00V549.4H989.75V550.5H990.50V546.6H991.25V545.2H992.00V545.1H992.75V541.9H993.50V541.3H994.25V539.3H995.00V537.4H995.75V536.8H996.50V534.6H997.25V537.0H998.00V534.6H998.75V535.9H999.50V534.8H1000.25V537.0H1001.00V536.0H1001.75V535.6H1002.50V532.7H1003.25V531.6H1004.00V532.5H1004.75V531.0H1005.50V534.8H1006.25V534.1H1007.00V533.3H1007.75V533.8H1008.50V535.6H1009.25V535.8H1010.00V537.8H1010.75V539.6H1011.50V539.4H1012.25V541.2H1013.00V532.2H1013.75V524.3H1014.50V512.6H1015.25V498.0H1016.00V478.6H1016.75V457.5H1017.50V444.5H1018.25V433.6H1019.00V425.5H1019.75V416.3H1020.50V413.9H1021.25V417.7H1022.00V401.2H1022.75V407.5H1023.50V401.0H1024.25V402.1H1025.00V408.7H1025.75V413.2H1026.50V421.5H1027.25V427.5H1028.00V440.4H1028.75V451.0H1029.50V460.4H1030.25V470.6H1031.00V479.5H1031.75V488.4H1032.50V496.2H1033.25V503.4H1034.00V511.4H1034.75V517.6H1035.50V525.1H1036.25V528.1H1037.00V530.5H1037.75V532.0H1038.50V534.4H1039.25V530.4H1040.00V522.8H1040.75V512.3H1041.50V490.0H1042.25V472.6H1043.00V468.8H1043.75V467.3H1044.50V463.8H1045.25V469.3H1046.00V464.3H1046.75V461.8H1047.50V464.5H1048.25V461.4H1049.00V462.3H1049.75V467.0H1050.50V481.8H1051.25V505.6H1052.00V510.7H1052.75V512.4H1053.50V513.6H1054.25V514.1H1055.00V515.1H1055.75V514.7H1056.50V515.1H1057.25V515.7H1058.00V518.5H1058.75V517.5H1059.50V516.5H1060.25V519.9H1061.00V523.0H1061.75V515.7H1062.50V519.0H1063.25V518.2H1064.00V519.0H1064.75V520.4H1065.50V521.4H1066.25V524.6H1067.00V524.1H1067.75V527.7H1068.50V529.3H1069.25V533.7H1070.00V534.3H1070.75V539.8H1071.50V539.4H1072.25V542.5H1073.00V544.1H1073.75V545.2H1074.50V543.6H1075.25V543.7H1076.00V541.5H1076.75V541.0H1077.50V536.8H1078.25V536.5H1079.00V537.9H1079.75V534.6H1080.50V524.7H1081.25V516.0H1082.00V510.7H1082.75V507.0H1083.50V501.8H1084.25V500.8H1085.00V500.2H1085.75V500.1H1086.50V499.4H1087.25V499.9H1088.00V501.1H1088.75V500.4H1089.50V503.7H1090.25V510.3H1091.00V513.9H1091.75V510.9H1092.50V486.1H1093.25V461.3H1094.00V444.0H1094.75V427.8H1095.50V410.5H1096.25V393.5H1097.00V377.4H1097.75V360.1H1098.50V342.9H1099.25V318.9H1100.00V301.6H1100.75V289.9H1101.50V298.2H1102.25V305.2H1103.00V314.0H1103.75V319.2H1104.50V326.4H1105.25V337.0H1106.00V345.8H1106.75V355.9H1107.50V362.9H1108.25V369.7H1109.00V379.8H1109.75V390.3H1110.50V399.7H1111.25V404.7H1112.00V415.4H1112.75V435.8H1113.50V450.0H1114.25V447.2H1115.00V450.1H1115.75V452.8H1116.50V464.8H1117.25V453.6H1118.00V443.3H1118.75V439.7H1119.50V437.0H1120.25V430.6H1121.00V442.3H1121.75V451.8H1122.50V461.0H1123.25V466.8H1124.00V474.8H1124.75V479.7H1125.50V484.9H1126.25V490.7H1127.00V495.5H1127.75V497.7H1128.50V500.9H1129.25V501.3H1130.00V500.5H1130.75V503.3H1131.50V506.3H1132.25V507.5H1133.00V509.8H1133.75V511.8H1134.50V512.8H1135.25V509.7H1136.00V507.6H1136.75V510.8H1137.50V511.5H1138.25V513.0H1139.00V515.7H1139.75V514.1H1140.50V509.7H1141.25V505.0H1142.00V499.2H1142.75V493.9H1143.50V487.8H1144.25V481.9H1145.00V477.1H1145.75V471.0H1146.50V460.7H1147.25V459.5H1148.00V451.6H1148.75V449.0H1149.50V453.5H1150.25V447.1H1151.00V443.7H1151.75V436.7H1152.50V434.3H1153.25V436.6H1153.70V577Z" fill="#6c80d8"/>
<line x1="1157.8" x2="1157.8" y1="124" y2="577.5" stroke="#5a5a5a" stroke-width="1.6"/>
<polyline points="114.90,554.7 116.80,547.0 118.50,548.8 120.40,551.0 122.00,547.5 124.00,549.1 126.50,563.8 128.00,559.0 130.00,561.7 131.80,559.0 133.70,561.9 136.00,554.7 138.00,551.0 139.80,551.9 141.40,554.9 144.50,554.0 148.00,555.3 151.00,551.3 154.00,549.7 157.20,546.3 159.30,549.2 161.30,549.2 163.00,549.0 165.00,549.9 167.30,536.4 169.70,529.3 171.00,518.7 172.20,511.4 173.30,521.6 174.60,527.0 175.80,520.7 177.00,518.6 178.80,520.2 180.60,521.1 182.40,520.6 184.20,522.3 186.60,535.4 188.40,531.2 190.20,530.5 192.60,532.3 195.00,532.5 197.40,525.8 199.80,529.1 202.20,528.9 204.60,524.7 207.00,526.5 208.80,523.6 210.60,523.2 212.40,517.5 214.20,515.0 215.40,517.0 216.60,516.6 218.40,514.7 220.30,517.1 223.30,512.5 226.30,511.7 228.10,503.7 229.90,499.1 231.10,494.7 232.30,486.1 233.50,497.9 234.70,509.0 236.50,503.4 238.30,498.3 240.70,494.0 243.10,491.6 244.90,489.2 246.70,489.2 248.50,480.5 250.30,475.8 252.10,477.2 253.90,478.9 255.10,489.0 256.30,497.4 258.10,489.4 259.90,484.7 262.30,480.9 264.70,479.0 266.50,472.6 268.30,465.8 269.80,458.2 271.20,453.3 273.60,440.5 275.20,434.6 276.70,425.9 278.20,421.6 279.60,416.7 280.80,424.5 282.00,428.7 284.40,426.3 286.80,426.5 288.60,431.2 290.40,438.4 291.60,428.4 292.80,420.3 294.00,422.0 295.30,422.3 297.10,407.6 298.90,394.2 300.10,393.0 301.30,391.4 303.10,385.8 304.90,381.8 306.10,387.7 307.30,392.9 308.20,401.8 309.00,411.9 310.50,404.8 312.10,394.8 313.30,390.3 314.50,392.3 316.30,380.2 318.10,371.0 319.50,374.5 321.00,374.3 322.50,362.9 324.10,354.2 325.30,363.4 326.50,369.8 327.70,358.8 328.90,347.2 330.70,335.8 332.50,323.0 333.50,309.1 334.50,296.4 335.50,290.4 336.60,285.6 337.50,298.1 338.50,308.0 339.30,309.1 340.20,315.7 341.20,305.4 342.20,294.0 343.40,300.2 344.60,309.3 345.80,318.1 347.00,324.1 348.20,323.7 349.40,325.9 350.60,342.1 351.80,359.0 353.20,343.2 354.70,327.7 355.80,333.5 357.00,334.9 358.60,328.5 360.20,322.4 361.40,330.0 362.60,339.7 363.80,339.0 365.00,342.8 366.20,348.8 367.40,353.0 368.60,356.8 369.80,361.4 371.00,357.3 372.20,350.4 373.60,341.1 375.10,334.9 376.60,335.6 378.20,333.7 379.40,339.2 380.60,344.7 382.40,344.6 384.20,349.5 385.40,352.6 386.60,355.4 387.80,351.9 389.00,351.8 390.20,360.9 391.50,365.0 392.90,364.0 394.30,368.6 395.90,363.3 397.50,361.4 398.70,364.5 399.90,365.7 401.30,356.4 402.80,345.0 404.00,349.7 405.20,350.9 406.40,356.2 407.60,365.0 409.70,361.3 411.90,362.6 413.10,356.4 414.30,354.2 415.50,359.5 416.70,365.0 418.50,362.6 420.30,360.6 422.10,363.3 423.90,362.0 425.70,363.2 427.50,363.9 429.30,362.4 431.10,363.5 432.90,363.0 434.70,362.6 435.90,366.8 437.10,372.0 438.00,383.6 438.80,391.8 440.00,390.8 441.20,394.6 442.20,399.8 443.20,407.1 444.40,406.0 445.60,411.9 446.50,403.2 447.50,395.1 448.70,399.2 449.90,401.1 451.10,399.2 452.30,395.1 453.50,399.2 454.70,401.5 456.70,400.6 458.80,407.3 460.20,406.2 461.70,408.3 463.80,399.4 466.00,394.6 467.20,398.2 468.40,399.9 470.80,395.4 473.20,399.8 475.00,397.1 476.80,395.7 477.70,386.8 478.70,377.3 480.10,378.9 481.60,375.4 483.40,377.1 485.20,372.5 486.40,371.1 487.60,371.0 489.20,359.6 490.80,347.0 492.20,347.8 493.70,349.4 494.90,343.5 496.10,342.2 497.00,347.9 498.00,350.6 499.40,344.9 500.90,338.7 502.10,326.3 503.30,314.5 504.50,320.3 505.70,326.5 506.60,318.8 507.60,316.9 509.70,334.3 510.90,333.3 512.10,335.5 513.70,329.3 515.30,321.1 516.80,326.7 518.40,330.7 519.80,332.1 521.30,331.8 522.50,333.9 523.70,335.5 524.60,330.0 525.60,328.9 527.30,329.7 529.00,330.1 530.20,340.7 531.40,347.5 533.00,347.4 534.50,347.1 535.70,349.3 536.90,348.7 538.30,342.3 539.80,336.2 541.60,336.8 543.40,338.0 545.00,341.6 546.50,344.0 548.00,349.3 549.40,356.0 551.00,352.5 552.50,353.5 554.00,356.2 555.40,356.6 557.00,356.4 558.50,354.9 560.10,350.6 561.70,347.5 563.10,344.2 564.60,340.7 566.00,342.8 567.40,339.6 569.00,337.3 570.60,333.4 571.80,333.5 573.00,330.7 574.50,333.8 576.10,332.2 577.50,338.7 578.70,343.7 579.90,364.2 581.10,382.9 582.30,371.6 583.50,366.9 585.30,362.9 587.10,359.9 588.30,355.8 589.60,354.7 591.40,354.6 593.20,357.7 595.00,347.9 596.80,340.2 598.20,336.2 599.40,334.3 600.60,338.2 601.80,340.3 603.60,335.2 605.40,331.9 607.20,335.5 609.00,334.7 610.90,335.2 612.70,335.9 614.50,340.3 616.30,340.2 618.10,337.9 619.90,338.1 621.10,333.1 622.30,329.7 623.50,324.8 624.70,322.0 626.70,319.7 628.80,318.8 630.30,322.7 631.90,322.3 633.10,327.1 634.30,330.7 635.70,328.8 637.20,328.4 638.40,330.4 639.60,330.1 641.70,328.7 643.90,327.3 645.70,322.3 647.50,317.9 648.70,314.0 649.90,311.6 651.10,309.9 652.30,303.0 653.50,301.7 654.70,298.8 655.90,293.4 657.10,289.9 658.30,289.6 659.60,286.2 660.80,288.6 662.00,289.8 663.20,283.9 664.40,278.4 665.60,274.9 666.80,272.7 668.00,263.6 669.20,256.2 670.60,243.7 672.10,234.5 673.00,237.4 674.00,240.3 675.20,250.1 676.40,254.9 677.60,250.4 678.80,246.3 680.20,237.5 681.70,225.4 683.20,218.8 684.80,211.6 686.00,220.8 687.20,227.3 689.00,214.5 690.80,206.8 692.60,211.4 694.40,217.7 695.80,212.1 697.30,210.1 699.10,207.3 700.90,203.2 702.40,210.8 704.00,221.3 705.80,216.0 707.60,209.2 710.00,212.9 711.00,227.6 711.90,241.5 713.30,242.7 714.80,245.8 716.20,238.2 717.70,236.1 719.20,243.0 720.80,251.8 722.00,245.8 723.20,244.6 725.00,248.0 726.80,251.5 728.00,255.7 729.20,256.1 730.60,244.7 732.10,233.2 733.70,229.6 735.30,225.6 737.10,225.5 738.90,222.3 740.70,221.8 742.50,223.3 743.30,220.5 744.20,218.1 745.10,220.9 746.10,226.0 747.50,230.8 749.00,234.5 750.20,229.0 751.40,224.2 752.60,217.7 753.80,212.3 755.30,205.4 756.90,201.3 758.30,204.1 759.80,207.3 761.30,204.5 762.90,200.1 764.30,205.4 765.80,208.9 767.30,209.4 768.90,213.1 770.40,219.8 772.00,224.1 773.40,220.7 774.90,222.8 776.10,219.6 777.30,220.9 778.70,224.9 780.20,229.1 781.80,231.2 783.40,232.1 784.60,240.6 785.80,244.6 787.30,236.2 788.90,230.4 790.30,229.7 791.80,228.9 793.20,233.9 794.70,241.0 795.90,234.6 797.10,230.1 798.30,235.9 799.50,239.7 801.00,236.2 802.60,229.5 804.10,228.0 805.70,224.8 807.10,230.9 808.60,233.7 810.40,233.8 812.20,235.5 814.00,236.7 815.80,237.3 817.00,247.7 818.20,257.8 820.00,255.8 821.80,256.5 823.60,255.2 825.40,253.0 826.40,256.8 827.40,259.9 828.20,276.1 829.00,287.8 830.20,281.9 831.50,280.6 832.70,283.6 833.90,285.3 835.10,282.7 836.30,280.8 838.10,276.8 839.90,273.4 841.70,277.2 843.50,274.0 845.00,271.9 846.60,271.0 848.00,277.1 849.50,281.3 851.30,284.8 853.10,287.8 854.00,282.9 855.00,278.2 856.40,282.0 857.90,289.0 859.70,285.1 861.50,284.2 863.30,286.6 865.10,287.9 866.90,286.3 868.70,283.5 869.90,280.8 871.10,280.6 872.10,291.0 873.10,301.1 874.50,298.8 875.90,300.1 877.70,297.7 879.60,294.8 881.10,295.2 882.70,293.9 884.10,295.1 885.60,298.6 887.40,298.3 889.20,297.3 890.40,293.9 891.60,291.0 892.40,285.0 893.30,280.1 894.80,274.9 896.40,273.4 898.20,275.8 900.00,277.0 901.50,272.3 903.10,269.8 904.50,272.7 906.00,272.8 907.30,277.9 908.70,283.0 910.10,272.4 911.50,262.8 913.50,259.2 915.60,259.3 917.40,258.3 919.20,255.4 920.40,257.9 921.60,262.6 923.00,260.5 924.50,258.4 926.10,261.4 927.70,260.8 930.00,263.0 931.80,263.5 933.60,262.6 935.60,267.6 937.70,268.3 938.90,261.7 940.10,258.6 942.80,253.4 945.60,253.6 947.40,255.6 949.20,257.9 952.20,256.0 955.30,258.0 956.50,262.5 957.70,265.9 959.50,263.6 961.30,266.0 962.70,267.0 964.20,268.3 965.70,263.8 967.30,262.3 969.10,264.9 970.90,264.2 972.70,261.1 974.50,261.8 975.70,254.1 976.90,245.8 978.70,246.0 980.50,244.1 982.30,241.3 984.10,240.6 985.60,242.4 987.20,240.3 988.40,235.0 989.60,229.8 991.30,232.1 993.00,232.6 995.00,230.2 996.90,230.0 998.30,225.9 999.70,226.2 1000.90,229.6 1002.20,232.9 1003.40,233.8 1004.60,235.8 1006.00,233.3 1007.40,231.6 1009.00,226.6 1010.60,217.6 1012.10,219.9 1013.70,217.6 1014.90,211.3 1016.10,201.8 1017.50,195.3 1019.00,194.9 1020.20,200.4 1021.40,203.4 1022.80,198.5 1024.30,198.3 1025.80,196.9 1027.40,196.1 1028.60,200.9 1029.80,204.6 1031.00,201.9 1032.20,202.1 1033.40,205.4 1034.60,209.4 1036.00,204.2 1037.50,205.1 1038.80,201.0 1040.10,197.2 1041.80,197.0 1043.50,197.1 1045.00,199.1 1046.60,198.3 1048.40,202.0 1050.20,206.0 1052.00,207.9 1053.90,213.0 1055.40,206.4 1057.00,200.3 1058.70,199.3 1060.40,199.7 1061.70,206.3 1063.00,214.2 1064.20,208.0 1065.40,205.1 1066.80,207.8 1068.30,204.6 1070.10,209.3 1071.90,214.2 1073.40,209.9 1075.00,209.2 1076.80,203.9 1078.60,202.2 1080.00,203.3 1081.50,207.0 1083.30,203.4 1085.10,198.8 1086.90,199.6 1088.70,194.9 1089.70,197.4 1090.70,198.5 1091.90,188.4 1093.10,181.8 1094.50,176.0 1095.90,174.4 1097.10,175.6 1098.40,175.1 1100.20,173.9 1102.00,170.9 1103.20,173.9 1104.40,174.6 1106.20,175.6 1108.00,175.8 1109.20,175.3 1110.40,176.9 1112.20,170.5 1114.00,168.5 1115.80,169.7 1117.60,171.4 1118.80,172.9 1120.00,173.5 1121.50,173.3 1122.90,175.9 1124.10,178.0 1125.30,181.2 1126.50,183.4 1127.70,188.9 1129.60,185.2 1131.50,182.4 1133.00,184.5 1134.40,184.1 1135.60,186.9 1136.80,190.6 1138.20,186.0 1139.70,182.7 1141.20,178.6 1142.80,175.9 1144.20,172.7 1145.70,172.4 1146.70,170.0 1147.70,170.7 1148.90,165.4 1150.10,165.2 1151.60,169.3 1153.20,169.0" fill="none" stroke="#000" stroke-width="2.1" stroke-linejoin="miter" stroke-miterlimit="3" stroke-linecap="round"/>
<path d="M862.5 363.3 H1136.3 L1149.3 378.6" fill="none" stroke="#111" stroke-width="1.6"/>
<circle cx="1153.8" cy="384" r="6.9" fill="none" stroke="#111" stroke-width="2.1"/>
<text x="891" y="356.3" font-size="17.6" font-weight="bold" fill="#111" textLength="122" lengthAdjust="spacingAndGlyphs">05-JUN-2025</text>
<text x="865.3" y="381.4" font-size="18.5" font-style="italic" fill="#e8212b" textLength="236" lengthAdjust="spacingAndGlyphs">LTH- Realized Profit = $1.0B</text>
<text x="865.3" y="401.6" font-size="18.5" font-style="italic" fill="#1c1cf0" textLength="254" lengthAdjust="spacingAndGlyphs">STH- Realized Profit = $0.33B</text>
<text x="7.8" y="683" font-size="16" fill="#767678" textLength="296" lengthAdjust="spacingAndGlyphs">© 2025 Glassnode. All Rights Reserved.</text>
<g transform="translate(1097.8,669.6) scale(0.183)" fill="none" stroke="#c6c6c6" stroke-width="21" stroke-linecap="butt"><circle cx="50" cy="52.0" r="41.0"/>
<path d="M91.0 0.5 V 90.0 A 41.0 41.0 0 0 1 17.2 115.4"/>
<path d="M135.0 -40.0 V 102.5"/>
<circle cx="213" cy="52.0" r="41.0"/>
<path d="M254.0 0.5 V 103.5"/>
<path transform="translate(281.5,0.5) scale(1.03)" d="M 61 27 C 58 15, 48 9.5, 36 9.5 C 22 9.5, 12 17, 12 29 C 12 42, 24 46, 36 50 C 50 54, 59 59, 59 71 C 59 83, 49 90.5, 35 90.5 C 21 90.5, 11 84, 8 72"/>
<path transform="translate(366.8,0.5) scale(1.03)" d="M 61 27 C 58 15, 48 9.5, 36 9.5 C 22 9.5, 12 17, 12 29 C 12 42, 24 46, 36 50 C 50 54, 59 59, 59 71 C 59 83, 49 90.5, 35 90.5 C 21 90.5, 11 84, 8 72"/>
<path d="M463.5 0.5 V 103.5 M463.5 45.0 A 34 34 0 0 1 531.5 45.0 V 103.5"/>
<circle cx="603.5" cy="52.0" r="41.0"/>
<circle cx="720" cy="52.0" r="41.0"/>
<path d="M761.0 -40.0 V 103.5"/>
<path d="M878.0 47.0 A 41.0 41.0 0 1 0 870.5 76.1"/>
<path d="M798.3 47.0 H 887.5" stroke-width="14.3"/></g>
</svg></body></html>
